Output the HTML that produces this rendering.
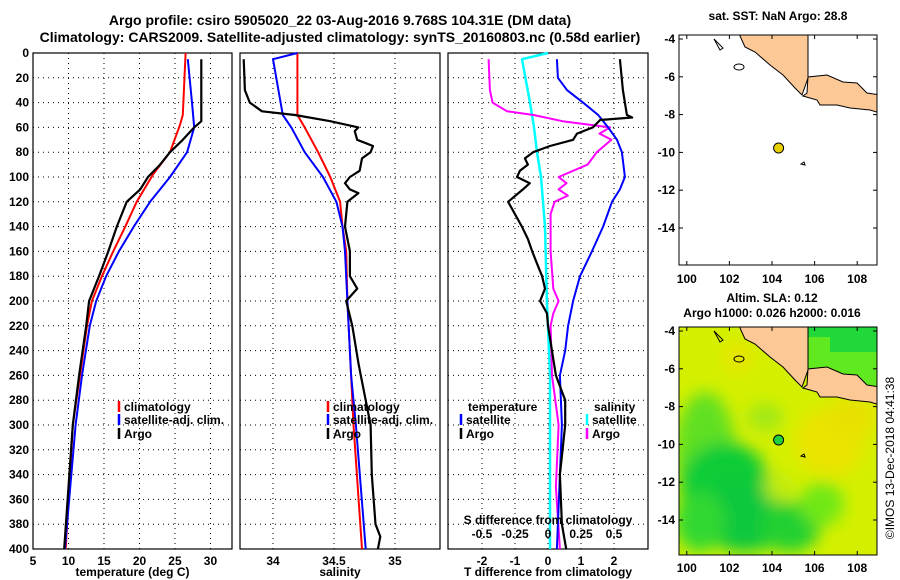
<!DOCTYPE html>
<html><head><meta charset="utf-8"><style>
body{margin:0;background:#fff;overflow:hidden}
svg{display:block;font-family:"Liberation Sans",sans-serif;font-weight:bold}
</style></head><body>
<svg id="c" width="900" height="580" xmlns="http://www.w3.org/2000/svg">
<text x="340" y="25" font-size="14" text-anchor="middle">Argo profile: csiro 5905020_22 03-Aug-2016 9.768S 104.31E (DM data)</text>
<text x="340" y="42" font-size="14" text-anchor="middle">Climatology: CARS2009. Satellite-adjusted climatology: synTS_20160803.nc (0.58d earlier)</text>
<g id="plots"></g>
<g id="maps"></g>
</svg>
<script>
// ---- data ----
const tClimD=[0,50,58,80,98,120,140,160,180,200,220,260,300,400];
const tClimV=[26.5,26.1,25.7,24.3,21.9,19.6,18,16.3,14.7,13.3,12.6,11.6,10.6,9.6];
const tSatD=[5,40,60,80,100,120,140,160,180,200,220,260,300,400];
const tSatV=[26.8,27.4,27.7,26.7,24.3,21.5,19.2,17.1,15.3,13.9,13,11.9,11,9.5];
const tArgoD=[5,55,60,70,80,90,100,110,120,140,160,180,200,220,260,300,400];
const tArgoV=[28.7,28.7,27.7,26.1,24.3,22.9,21.2,20.1,18.2,16.8,15.6,14.3,12.9,12.5,11.5,10.6,9.4];
const sClimD=[0,50,60,80,100,120,140,160,200,260,300,400];
const sClimV=[34.2,34.2,34.26,34.37,34.47,34.55,34.57,34.6,34.61,34.64,34.66,34.73];
const sSatD=[0,5,50,60,80,100,120,140,160,200,260,300,400];
const sSatV=[34.2,34.0,34.08,34.15,34.26,34.41,34.52,34.57,34.59,34.61,34.64,34.68,34.76];
const sArgoD=[5,30,40,47,50,55,60,63,70,75,80,85,95,100,105,110,113,120,140,160,180,190,200,220,250,260,280,300,340,380,390,400];
const sArgoV=[33.76,33.77,33.81,33.91,34.18,34.47,34.7,34.67,34.69,34.82,34.8,34.73,34.71,34.63,34.59,34.63,34.7,34.61,34.59,34.63,34.63,34.69,34.6,34.65,34.7,34.72,34.76,34.8,34.81,34.84,34.88,34.86];
const dSsatD=[0,5,40,60,80,100,140,200,260,300,400];
const dSsatV=[0,-0.197,-0.136,-0.106,-0.083,-0.053,-0.023,-0.008,0.015,0.015,0.015];
const dSargoD=[5,30,40,47,50,55,60,65,70,80,90,100,105,110,115,120,130,160,190,200,210,220,260,300,350,400];
const dSargoV=[-0.45,-0.44,-0.42,-0.31,-0.11,0.11,0.47,0.39,0.48,0.37,0.30,0.08,0.14,0.08,0.15,0.05,0.02,0.02,0.04,0.08,0.04,0.02,0.03,0.08,0.06,0.09];
const dTsatD=[5,20,30,40,50,60,70,80,100,110,120,140,160,180,200,220,240,260,300,400];
const dTsatV=[0.27,0.3,0.58,1.06,1.52,1.82,2.09,2.24,2.33,2.18,1.94,1.67,1.33,0.97,0.76,0.61,0.52,0.36,0.42,0.27];
const dTargoD=[5,30,40,50,52,54,60,65,70,75,80,85,90,95,100,105,110,120,130,140,150,160,170,180,190,200,210,220,260,280,300,340,380,400];
const dTargoV=[2.18,2.27,2.33,2.39,2.55,1.58,1.36,0.88,0.76,0.06,-0.45,-0.7,-0.61,-0.85,-0.94,-0.55,-0.76,-1.21,-1.0,-0.79,-0.61,-0.48,-0.33,-0.18,-0.09,-0.24,-0.03,0,0.24,0.52,0.52,0.36,0.42,0.55];
const depthTicks=[0,20,40,60,80,100,120,140,160,180,200,220,240,260,280,300,320,340,360,380,400];
const tTicks=[5,10,15,20,25,30];
const sTicks=[34,34.5,35];
const sTickLbl=["34","34.5","35"];
const dtTicks=[-2,-1,0,1,2];
const dsTicks=[-0.5,-0.25,0,0.25,0.5];
const dsTickLbl=["-0.5","-0.25","0","0.25","0.5"];
const lonTicks=[100,102,104,106,108];
const latTicks=[-4,-6,-8,-10,-12,-14];
const argoLon=104.31, argoLat=-9.768;

const NS="http://www.w3.org/2000/svg";
function mk(tag,attrs,parent,txt){const e=document.createElementNS(NS,tag);for(const k in attrs)e.setAttribute(k,attrs[k]);if(txt!==undefined)e.textContent=txt;parent.appendChild(e);return e;}
const plots=document.getElementById('plots');
const Y0=53,Y1=549;
const yD=d=>Y0+(d)*(Y1-Y0)/400;
function panel(name,x0,x1,vmin,vmax,ticks,lbls,title){
  const g=mk('g',{},plots);
  
  
  const xf=v=>x0+(v-vmin)*(x1-x0)/(vmax-vmin);
  depthTicks.forEach(d=>{const l=mk('line',{x1:x0,x2:x1,y1:yD(d),y2:yD(d),stroke:'#000','stroke-width':1,'stroke-dasharray':'1,4'},g);
    });
  ticks.forEach((t,i)=>{const x=xf(t);
    const l=mk('line',{x1:x,x2:x,y1:Y0,y2:Y1,stroke:'#000','stroke-width':1,'stroke-dasharray':'1,4'},g);
    
    const tx=mk('text',{x:x,y:565,'font-size':12,'text-anchor':'middle'},g,lbls?lbls[i]:String(t));
    });
  const r=mk('rect',{x:x0,y:Y0,width:x1-x0,height:Y1-Y0,fill:'none',stroke:'#000','stroke-width':1.2},g);
  
  const at=mk('text',{x:(x0+x1)/2,y:576,'font-size':12,'text-anchor':'middle'},g,title);
  
  return {g,xf};
}
function series(p,D,V,color,w,name){
  const d=D.map((dd,i)=>(i?'L':'M')+p.xf(V[i]).toFixed(1)+','+yD(dd).toFixed(1)).join('');
  const e=mk('path',{d:d,fill:'none',stroke:color,'stroke-width':w,'stroke-linejoin':'round'},p.g);
  
}
function legend(g,x,y,color,label){
  const l=mk('line',{x1:x,x2:x,y1:y-10,y2:y+1,stroke:color,'stroke-width':2.5},g);
  
  const t=mk('text',{x:x+5,y:y,'font-size':12},g,label);
  
}
depthTicks.forEach(d=>{const t=mk('text',{x:29,y:yD(d)+4,'font-size':12,'text-anchor':'end'},plots,String(d));
  });

const p1=panel('temperature-panel',33,232,5,33.03,tTicks,null,'temperature (deg C)');
series(p1,tClimD,tClimV,'#ff0000',2,'temp-climatology-line');
series(p1,tSatD,tSatV,'#0000ff',2,'temp-satellite-line');
series(p1,tArgoD,tArgoV,'#000',2.2,'temp-argo-line');
legend(p1.g,119,411,'#ff0000','climatology');legend(p1.g,119,424,'#0000ff','satellite-adj. clim.');legend(p1.g,119,438,'#000','Argo');

const p2=panel('salinity-panel',240,440,33.7295,35.369,sTicks,sTickLbl,'salinity');
series(p2,sClimD,sClimV,'#ff0000',2,'sal-climatology-line');
series(p2,sSatD,sSatV,'#0000ff',2,'sal-satellite-line');
series(p2,sArgoD,sArgoV,'#000',2.2,'sal-argo-line');
legend(p2.g,328,411,'#ff0000','climatology');legend(p2.g,328,424,'#0000ff','satellite-adj. clim.');legend(p2.g,328,438,'#000','Argo');

const p3=panel('difference-panel',448,648,-3.03,3.03,dtTicks,null,'T difference from climatology');
const sx=v=>v*4;
series(p3,dSsatD,dSsatV.map(sx),'#00ffff',2.5,'sal-diff-satellite-line');
series(p3,dSargoD,dSargoV.map(sx),'#ff00ff',2,'sal-diff-argo-line');
series(p3,dTsatD,dTsatV,'#0000ff',2,'temp-diff-satellite-line');
series(p3,dTargoD,dTargoV,'#000',2.2,'temp-diff-argo-line');
let t=mk('text',{x:468,y:411,'font-size':12},p3.g,'temperature');
t=mk('text',{x:594,y:411,'font-size':12},p3.g,'salinity');
legend(p3.g,461,424,'#0000ff','satellite');legend(p3.g,461,438,'#000','Argo');
legend(p3.g,587,424,'#00ffff','satellite');legend(p3.g,587,438,'#ff00ff','Argo');
t=mk('text',{x:548,y:524,'font-size':12,'text-anchor':'middle'},p3.g,'S difference from climatology');
dsTicks.forEach((v,i)=>{const e=mk('text',{x:p3.xf(v*4),y:538,'font-size':12,'text-anchor':'middle'},p3.g,dsTickLbl[i]);
  });

// ---- maps ----
const maps=document.getElementById('maps');
const MX0=679,MX1=877;
const lonX=l=>772+(l-104)*21.3;
function map(name,y0,y1,s,bg){
  const g=mk('g',{},maps);
  
  const latY=la=>s+39+(-4-la)*18.9;
  const cid='clip'+y0;
  const cp=mk('clipPath',{id:cid},g);mk('rect',{x:MX0,y:y0,width:MX1-MX0,height:y1-y0},cp);
  const inner=mk('g',{'clip-path':'url(#'+cid+')'},g);
  mk('rect',{x:MX0,y:y0,width:MX1-MX0,height:y1-y0,fill:bg},inner);
  return {g,inner,latY,s};
}
function coast(m,seaColor,fieldMode){
  const s=m.s;
  if(fieldMode){
    const f=mk('defs',{},m.inner);
    const fl=mk('filter',{id:'bl',x:'-50%',y:'-50%',width:'200%',height:'200%'},f);mk('feGaussianBlur',{stdDeviation:8},fl);
    const gg=mk('g',{filter:'url(#bl)'},m.inner);
    [[705,160,30,60,'#60e020'],[725,195,45,45,'#10cc38'],[745,225,45,35,'#08c83c'],[790,235,30,25,'#20d030'],[700,230,25,30,'#30d830'],
     [830,150,35,35,'#eae400'],[852,125,25,20,'#e8e000'],[738,65,15,15,'#e8e400'],[765,125,18,14,'#a0e818'],[822,212,22,22,'#70e818'],[780,195,15,15,'#c0ec08']]
    .forEach(e=>mk('ellipse',{cx:e[0],cy:s+e[1],rx:e[2],ry:e[3],fill:e[4]},gg));
  }
  const sea=[[808,30],[880,30],[880,95],[867,93],[857,83],[843,82],[827,75],[808,77]];
  const seaE=mk('polygon',{points:sea.map(p=>p[0]+','+(p[1]+s)).join(' '),fill:seaColor},m.inner);
  
  if(fieldMode){
    mk('polygon',{points:[[808,30],[880,30],[880,60],[830,60],[830,45],[808,45]].map(p=>p[0]+','+(p[1]+s)).join(' '),fill:'#20d83a'},m.inner);
  }
  const sum=[[740,30],[740,36],[745,47],[755,52],[770,65],[783,75],[795,88],[802,95],[808,78],[808,30]];
  const jav=[[803,96],[807,93],[808,77],[827,75],[843,82],[857,83],[867,93],[880,95],[880,113],[870,110],[850,108],[837,105],[820,105],[817,100]];
  [sum,jav].forEach((poly,i)=>{const e=mk('polygon',{points:poly.map(p=>p[0]+','+(p[1]+s)).join(' '),fill:'#fcc896',stroke:'#000','stroke-width':1},m.inner);
    });
  mk('ellipse',{cx:739,cy:s+67,rx:5,ry:3,fill:'none',stroke:'#000','stroke-width':1},m.inner);
  mk('path',{d:`M714 ${s+39} l9 9 l-3 2 z`,fill:'none',stroke:'#000','stroke-width':1},m.inner);
  mk('path',{d:`M801 ${s+164} l3 -2 l1 3 z`,fill:'none',stroke:'#000','stroke-width':1},m.inner);
}
function frame(m,y0,y1,axisY){
  const g=m.g;
  const r=mk('rect',{x:MX0,y:y0,width:MX1-MX0,height:y1-y0,fill:'none',stroke:'#000','stroke-width':1},g);
  
  lonTicks.forEach(l=>{const e=mk('text',{x:lonX(l),y:axisY,'font-size':12,'text-anchor':'middle'},g,String(l));
    
    mk('line',{x1:lonX(l),x2:lonX(l),y1:y1,y2:y1-4,stroke:'#000'},g);mk('line',{x1:lonX(l),x2:lonX(l),y1:y0,y2:y0+4,stroke:'#000'},g);});
  latTicks.forEach(la=>{const e=mk('text',{x:675,y:m.latY(la)+4,'font-size':12,'text-anchor':'end'},g,String(la));
    
    mk('line',{x1:MX0,x2:MX0+4,y1:m.latY(la),y2:m.latY(la),stroke:'#000'},g);mk('line',{x1:MX1,x2:MX1-4,y1:m.latY(la),y2:m.latY(la),stroke:'#000'},g);});
}
const m1=map('sst-map',35,265,0,'#ffffff');
coast(m1,'#ffffff',false);
let dot=mk('circle',{cx:lonX(argoLon),cy:m1.latY(argoLat),r:5,fill:'#e8d000',stroke:'#000','stroke-width':1},m1.g);

frame(m1,35,265,283);
t=mk('text',{x:778,y:20,'font-size':12,'text-anchor':'middle'},m1.g,'sat. SST: NaN Argo: 28.8');

const m2=map('sla-map',327,555,292,'#d4f000');
coast(m2,'#60e820',true);
dot=mk('circle',{cx:lonX(argoLon),cy:m2.latY(argoLat),r:5,fill:'#20d040',stroke:'#000','stroke-width':1},m2.g);

frame(m2,327,555,572);
t=mk('text',{x:772,y:302,'font-size':12,'text-anchor':'middle'},m2.g,'Altim. SLA: 0.12');
t=mk('text',{x:772,y:317,'font-size':12,'text-anchor':'middle'},m2.g,'Argo h1000: 0.026 h2000: 0.016');
t=mk('text',{x:0,y:0,'font-size':12,'font-weight':'normal','text-anchor':'middle',transform:'translate(894,458) rotate(-90)'},maps,'©IMOS 13-Dec-2018 04:41:38');

</script>
</body></html>
